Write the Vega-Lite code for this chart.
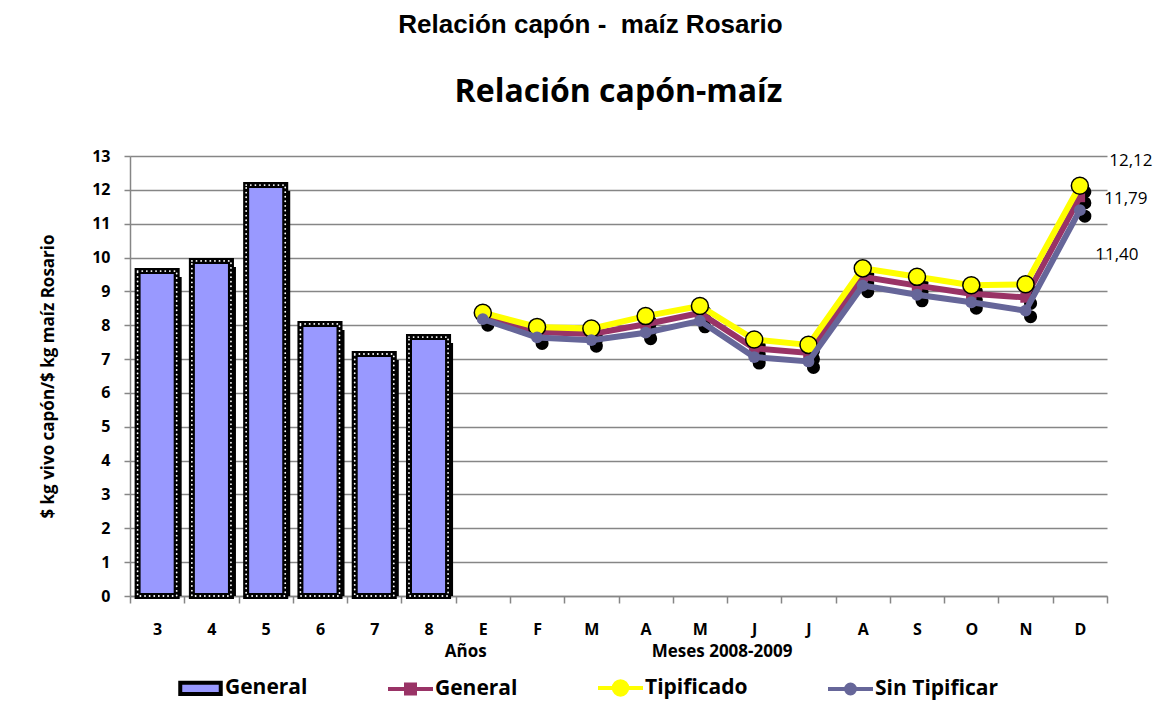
{
  "$schema": "https://vega.github.io/schema/vega-lite/v6.json",
  "autosize": {"type": "none"},
  "width": 977,
  "height": 440,
  "padding": {"left": 130, "top": 156, "right": 57, "bottom": 125},
  "background": "white",
  "title": {
    "text": "Relación capón - \u00a0maíz Rosario",
    "subtitle": "Relación capón-maíz",
    "anchor": "middle",
    "font": "Liberation Sans",
    "fontSize": 26,
    "fontWeight": "bold",
    "color": "black",
    "subtitleFont": "Open Sans",
    "subtitleFontSize": 32,
    "subtitleFontWeight": "bold",
    "subtitleColor": "black",
    "subtitlePadding": 39,
    "offset": 40,
    "encoding": {"dx": {"value": -28}}
  },
  "data": {
    "values": [
      {"cat": "3", "serie": "General (años)", "valor": 9.6, "orden": 1},
      {"cat": "4", "serie": "General (años)", "valor": 9.9, "orden": 2},
      {"cat": "5", "serie": "General (años)", "valor": 12.14, "orden": 3},
      {"cat": "6", "serie": "General (años)", "valor": 8.04, "orden": 4},
      {"cat": "7", "serie": "General (años)", "valor": 7.15, "orden": 5},
      {"cat": "8", "serie": "General (años)", "valor": 7.65, "orden": 6},
      {"cat": "Ene", "serie": "General", "valor": 8.28, "orden": 7},
      {"cat": "Feb", "serie": "General", "valor": 7.8, "orden": 8},
      {"cat": "Mar", "serie": "General", "valor": 7.74, "orden": 9},
      {"cat": "Abr", "serie": "General", "valor": 8.03, "orden": 10},
      {"cat": "May", "serie": "General", "valor": 8.36, "orden": 11},
      {"cat": "Jun", "serie": "General", "valor": 7.32, "orden": 12},
      {"cat": "Jul", "serie": "General", "valor": 7.18, "orden": 13},
      {"cat": "Ago", "serie": "General", "valor": 9.43, "orden": 14},
      {"cat": "Sep", "serie": "General", "valor": 9.17, "orden": 15},
      {"cat": "Oct", "serie": "General", "valor": 8.93, "orden": 16},
      {"cat": "Nov", "serie": "General", "valor": 8.82, "orden": 17},
      {"cat": "Dic", "serie": "General", "valor": 11.79, "orden": 18},
      {"cat": "Ene", "serie": "Tipificado", "valor": 8.37, "orden": 7},
      {"cat": "Feb", "serie": "Tipificado", "valor": 7.95, "orden": 8},
      {"cat": "Mar", "serie": "Tipificado", "valor": 7.9, "orden": 9},
      {"cat": "Abr", "serie": "Tipificado", "valor": 8.27, "orden": 10},
      {"cat": "May", "serie": "Tipificado", "valor": 8.57, "orden": 11},
      {"cat": "Jun", "serie": "Tipificado", "valor": 7.58, "orden": 12},
      {"cat": "Jul", "serie": "Tipificado", "valor": 7.42, "orden": 13},
      {"cat": "Ago", "serie": "Tipificado", "valor": 9.68, "orden": 14},
      {"cat": "Sep", "serie": "Tipificado", "valor": 9.43, "orden": 15},
      {"cat": "Oct", "serie": "Tipificado", "valor": 9.18, "orden": 16},
      {"cat": "Nov", "serie": "Tipificado", "valor": 9.21, "orden": 17},
      {"cat": "Dic", "serie": "Tipificado", "valor": 12.12, "orden": 18},
      {"cat": "Ene", "serie": "Sin Tipificar", "valor": 8.18, "orden": 7},
      {"cat": "Feb", "serie": "Sin Tipificar", "valor": 7.64, "orden": 8},
      {"cat": "Mar", "serie": "Sin Tipificar", "valor": 7.56, "orden": 9},
      {"cat": "Abr", "serie": "Sin Tipificar", "valor": 7.78, "orden": 10},
      {"cat": "May", "serie": "Sin Tipificar", "valor": 8.13, "orden": 11},
      {"cat": "Jun", "serie": "Sin Tipificar", "valor": 7.06, "orden": 12},
      {"cat": "Jul", "serie": "Sin Tipificar", "valor": 6.93, "orden": 13},
      {"cat": "Ago", "serie": "Sin Tipificar", "valor": 9.17, "orden": 14},
      {"cat": "Sep", "serie": "Sin Tipificar", "valor": 8.9, "orden": 15},
      {"cat": "Oct", "serie": "Sin Tipificar", "valor": 8.68, "orden": 16},
      {"cat": "Nov", "serie": "Sin Tipificar", "valor": 8.43, "orden": 17},
      {"cat": "Dic", "serie": "Sin Tipificar", "valor": 11.4, "orden": 18},
      {"cat": "8", "serie": "grupo", "valor": 0, "orden": 0, "txt": "Años"},
      {"cat": "May", "serie": "grupo", "valor": 0, "orden": 0, "txt": "Meses 2008-2009"}
    ]
  },
  "encoding": {
    "x": {
      "field": "cat",
      "type": "nominal",
      "title": null,
      "scale": {
        "domain": ["3", "4", "5", "6", "7", "8", "Ene", "Feb", "Mar", "Abr", "May", "Jun", "Jul", "Ago", "Sep", "Oct", "Nov", "Dic"],
        "paddingInner": 0,
        "paddingOuter": 0
      },
      "axis": {
        "labelExpr": "substring(datum.label, 0, 1)",
        "tickBand": "extent",
        "grid": false,
        "domainColor": "#868686",
        "domainWidth": 1.5,
        "tickColor": "#868686",
        "tickWidth": 1.5,
        "tickSize": 7,
        "labelFont": "Open Sans",
        "labelFontSize": 16,
        "labelFontWeight": "bold",
        "labelColor": "black",
        "labelPadding": 18,
        "labelAngle": 0
      }
    },
    "y": {
      "field": "valor",
      "type": "quantitative",
      "title": "$ kg vivo capón/$ kg maíz Rosario",
      "scale": {"domain": [0, 13], "nice": false},
      "axis": {
        "values": [0, 1, 2, 3, 4, 5, 6, 7, 8, 9, 10, 11, 12, 13],
        "grid": true,
        "gridColor": "#868686",
        "gridWidth": 1.5,
        "domainColor": "#868686",
        "domainWidth": 1.5,
        "tickColor": "#868686",
        "tickWidth": 1.5,
        "tickSize": 6,
        "labelFont": "Open Sans",
        "labelFontSize": 16,
        "labelFontWeight": "bold",
        "labelColor": "black",
        "labelPadding": 14,
        "titleFont": "Open Sans",
        "titleFontSize": 17,
        "titleFontWeight": "bold",
        "titleColor": "black",
        "titlePadding": 34
      }
    }
  },
  "layer": [
    {
      "transform": [{"filter": "datum.serie == 'General (años)'"}],
      "mark": {"type": "bar", "color": "black", "xOffset": 5, "yOffset": 6, "clip": true, "width": {"band": 0.72}}
    },
    {
      "transform": [{"filter": "datum.serie == 'General (años)'"}],
      "mark": {"type": "bar", "fill": "#9999FF", "stroke": "black", "strokeWidth": 6, "width": {"band": 0.72}}
    },
    {
      "transform": [{"filter": "datum.serie == 'General (años)'"}],
      "mark": {"type": "bar", "fillOpacity": 0, "stroke": "white", "strokeWidth": 1.8, "strokeDash": [0.1, 4.5], "strokeCap": "round", "width": {"band": 0.72}}
    },
    {
      "transform": [{"filter": "datum.serie == 'General' || datum.serie == 'Tipificado' || datum.serie == 'Sin Tipificar'"}],
      "mark": {"type": "point", "filled": true, "color": "black", "opacity": 1, "size": 170, "xOffset": 5, "yOffset": 6}
    },
    {
      "transform": [{"filter": "datum.serie == 'General'"}],
      "mark": {"type": "line", "color": "#993366", "strokeWidth": 6},
      "encoding": {"order": {"field": "orden", "type": "quantitative"}}
    },
    {
      "transform": [{"filter": "datum.serie == 'General'"}],
      "mark": {"type": "point", "shape": "square", "filled": true, "color": "#993366", "opacity": 1, "size": 110}
    },
    {
      "transform": [{"filter": "datum.serie == 'Tipificado'"}],
      "mark": {"type": "line", "color": "#FFFF00", "strokeWidth": 6},
      "encoding": {"order": {"field": "orden", "type": "quantitative"}}
    },
    {
      "transform": [{"filter": "datum.serie == 'Tipificado'"}],
      "mark": {"type": "point", "shape": "circle", "filled": true, "fill": "#FFFF00", "stroke": "black", "strokeWidth": 1.5, "opacity": 1, "size": 290}
    },
    {
      "transform": [{"filter": "datum.serie == 'Sin Tipificar'"}],
      "mark": {"type": "line", "color": "#666699", "strokeWidth": 6},
      "encoding": {"order": {"field": "orden", "type": "quantitative"}}
    },
    {
      "transform": [{"filter": "datum.serie == 'Sin Tipificar'"}],
      "mark": {"type": "point", "shape": "circle", "filled": true, "color": "#666699", "opacity": 1, "size": 140}
    },
    {
      "transform": [{"filter": "datum.serie == 'Tipificado' && datum.cat == 'Dic'"}],
      "mark": {"type": "text", "font": "Open Sans", "fontSize": 17, "color": "black", "dx": 51, "dy": -25},
      "encoding": {"text": {"field": "valor", "type": "quantitative", "format": ".2f"}}
    },
    {
      "transform": [{"filter": "datum.serie == 'General' && datum.cat == 'Dic'"}],
      "mark": {"type": "text", "font": "Open Sans", "fontSize": 17, "color": "black", "dx": 46, "dy": 2},
      "encoding": {"text": {"field": "valor", "type": "quantitative", "format": ".2f"}}
    },
    {
      "transform": [{"filter": "datum.serie == 'Sin Tipificar' && datum.cat == 'Dic'"}],
      "mark": {"type": "text", "font": "Open Sans", "fontSize": 17, "color": "black", "dx": 37, "dy": 45},
      "encoding": {"text": {"field": "valor", "type": "quantitative", "format": ".2f"}}
    },
    {
      "transform": [{"filter": "datum.serie == 'grupo' && datum.cat == '8'"}],
      "mark": {"type": "text", "font": "Open Sans", "fontSize": 17, "fontWeight": "bold", "color": "black", "dy": 56, "dx": 10},
      "encoding": {
        "x": {"field": "cat", "type": "nominal", "bandPosition": 1, "title": null},
        "text": {"field": "txt", "type": "nominal"}
      }
    },
    {
      "transform": [{"filter": "datum.serie == 'grupo' && datum.cat == 'May'"}],
      "mark": {"type": "text", "font": "Open Sans", "fontSize": 17, "fontWeight": "bold", "color": "black", "dy": 56, "dx": -5},
      "encoding": {
        "x": {"field": "cat", "type": "nominal", "bandPosition": 1, "title": null},
        "text": {"field": "txt", "type": "nominal"}
      }
    },
    {
      "transform": [{"filter": "false"}],
      "mark": {"type": "point", "filled": true, "opacity": 1},
      "encoding": {
        "fill": {
          "field": "serie",
          "type": "nominal",
          "scale": {
            "domain": ["General (años)", "General", "Tipificado", "Sin Tipificar"],
            "range": ["#9999FF", "#993366", "#FFFF00", "#666699"]
          },
          "legend": {
            "orient": "none",
            "legendX": 46,
            "legendY": 507,
            "direction": "horizontal",
            "title": null,
            "padding": 0,
            "labelFont": "Open Sans",
            "labelFontSize": 21,
            "labelFontWeight": "bold",
            "labelColor": "black",
            "labelOffset": 0,
            "columnPadding": 72,
            "symbolSize": 2025,
            "symbolStrokeWidth": 4,
            "symbolOpacity": 1,
            "labelExpr": "datum.label == 'General (años)' ? 'General' : datum.label"
          }
        },
        "stroke": {
          "field": "serie",
          "type": "nominal",
          "scale": {
            "domain": ["General (años)", "General", "Tipificado", "Sin Tipificar"],
            "range": ["black", "#993366", "#FFFF00", "#666699"]
          },
          "legend": {
            "orient": "none",
            "legendX": 46,
            "legendY": 507,
            "direction": "horizontal",
            "title": null,
            "padding": 0,
            "labelFont": "Open Sans",
            "labelFontSize": 21,
            "labelFontWeight": "bold",
            "labelColor": "black",
            "labelOffset": 0,
            "columnPadding": 72,
            "symbolSize": 2025,
            "symbolStrokeWidth": 4,
            "symbolOpacity": 1,
            "labelExpr": "datum.label == 'General (años)' ? 'General' : datum.label"
          }
        },
        "shape": {
          "field": "serie",
          "type": "nominal",
          "scale": {
            "domain": ["General (años)", "General", "Tipificado", "Sin Tipificar"],
            "range": [
              "M-0.9,-0.25H0.9V0.25H-0.9Z",
              "M-1,0H-0.2V-0.2H0.2V0.2H-0.2V0M0.2,0H1",
              "M-1,0H-0.3A0.3,0.3 0 1,1 0.3,0H1M0.3,0A0.3,0.3 0 1,1 -0.3,0",
              "M-1,0H-0.2A0.2,0.2 0 1,1 0.2,0H1M0.2,0A0.2,0.2 0 1,1 -0.2,0"
            ]
          },
          "legend": {
            "orient": "none",
            "legendX": 46,
            "legendY": 507,
            "direction": "horizontal",
            "title": null,
            "padding": 0,
            "labelFont": "Open Sans",
            "labelFontSize": 21,
            "labelFontWeight": "bold",
            "labelColor": "black",
            "labelOffset": 0,
            "columnPadding": 72,
            "symbolSize": 2025,
            "symbolStrokeWidth": 4,
            "symbolOpacity": 1,
            "labelExpr": "datum.label == 'General (años)' ? 'General' : datum.label"
          }
        }
      }
    }
  ],
  "config": {
    "view": {"stroke": null},
    "locale": {"number": {"decimal": ",", "thousands": ".", "grouping": [3], "currency": ["$", ""]}}
  }
}
